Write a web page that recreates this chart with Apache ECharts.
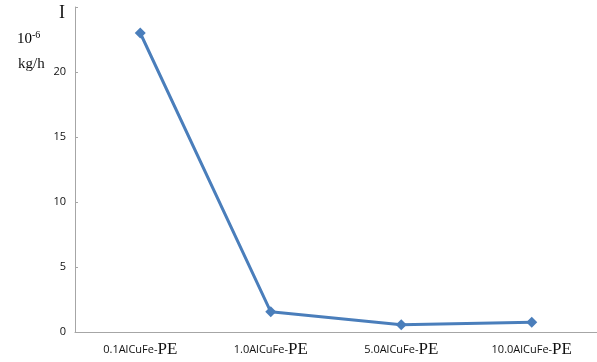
<!DOCTYPE html>
<html><head><meta charset="utf-8">
<script src="https://cdn.jsdelivr.net/npm/echarts@6/dist/echarts.min.js"></script>
<style>html,body{margin:0;padding:0;background:#fff}#c{width:597px;height:362px}</style>
</head><body><div id="c"></div>
<script>
const categories = ['0.1AlCuFe-', '1.0AlCuFe-', '5.0AlCuFe-', '10.0AlCuFe-'];
const values = [23.0, 1.55, 0.55, 0.75];
const yTicks = [0, 5, 10, 15, 20];

const chart = echarts.init(document.getElementById('c'));
chart.setOption({
  animation: false,
  grid: {left: 75, right: 0, top: 7, bottom: 30},
  xAxis: {
    type: 'category', data: categories, boundaryGap: true,
    axisLine: {lineStyle: {color: '#a6a6a6', width: 1}},
    axisTick: {show: false},
    axisLabel: {
      margin: 9, interval: 0,
      formatter: v => '{a|' + v + '}{b|PE}',
      rich: {
        a: {fontFamily: 'Open Sans', fontSize: 11, color: '#111'},
        b: {fontFamily: 'Liberation Serif', fontSize: 17, color: '#111'}
      }
    }
  },
  yAxis: {
    type: 'value', min: 0, max: 25, interval: 5,
    axisLine: {show: true, lineStyle: {color: '#a6a6a6', width: 1}},
    axisTick: {show: true, inside: true, length: 3, lineStyle: {color: '#a6a6a6'}},
    splitLine: {show: false},
    axisLabel: {
      margin: 9, fontFamily: 'Open Sans', fontSize: 11, color: '#111',
      formatter: v => yTicks.includes(v) ? String(v) : ''
    }
  },
  series: [{
    type: 'line', data: values,
    symbol: 'diamond', symbolSize: 11,
    lineStyle: {color: '#4a7ebb', width: 3},
    itemStyle: {color: '#4a7ebb'}
  }],
  graphic: [
    {type: 'text', left: 59, top: 4, style: {text: 'I', fontFamily: 'Liberation Serif', fontSize: 18, fill: '#111'}},
    {type: 'text', left: 17, top: 30, style: {text: '{a|10}{b|-6}', rich: {a: {fontFamily: 'Liberation Serif', fontSize: 15, color: '#111'}, b: {fontFamily: 'Liberation Serif', fontSize: 10, color: '#111', verticalAlign: 'top', padding: [0,0,8,0]}}}},
    {type: 'text', left: 18, top: 57, style: {text: 'kg/h', fontFamily: 'Liberation Serif', fontSize: 15, fill: '#111'}}
  ]
});
</script></body></html>
